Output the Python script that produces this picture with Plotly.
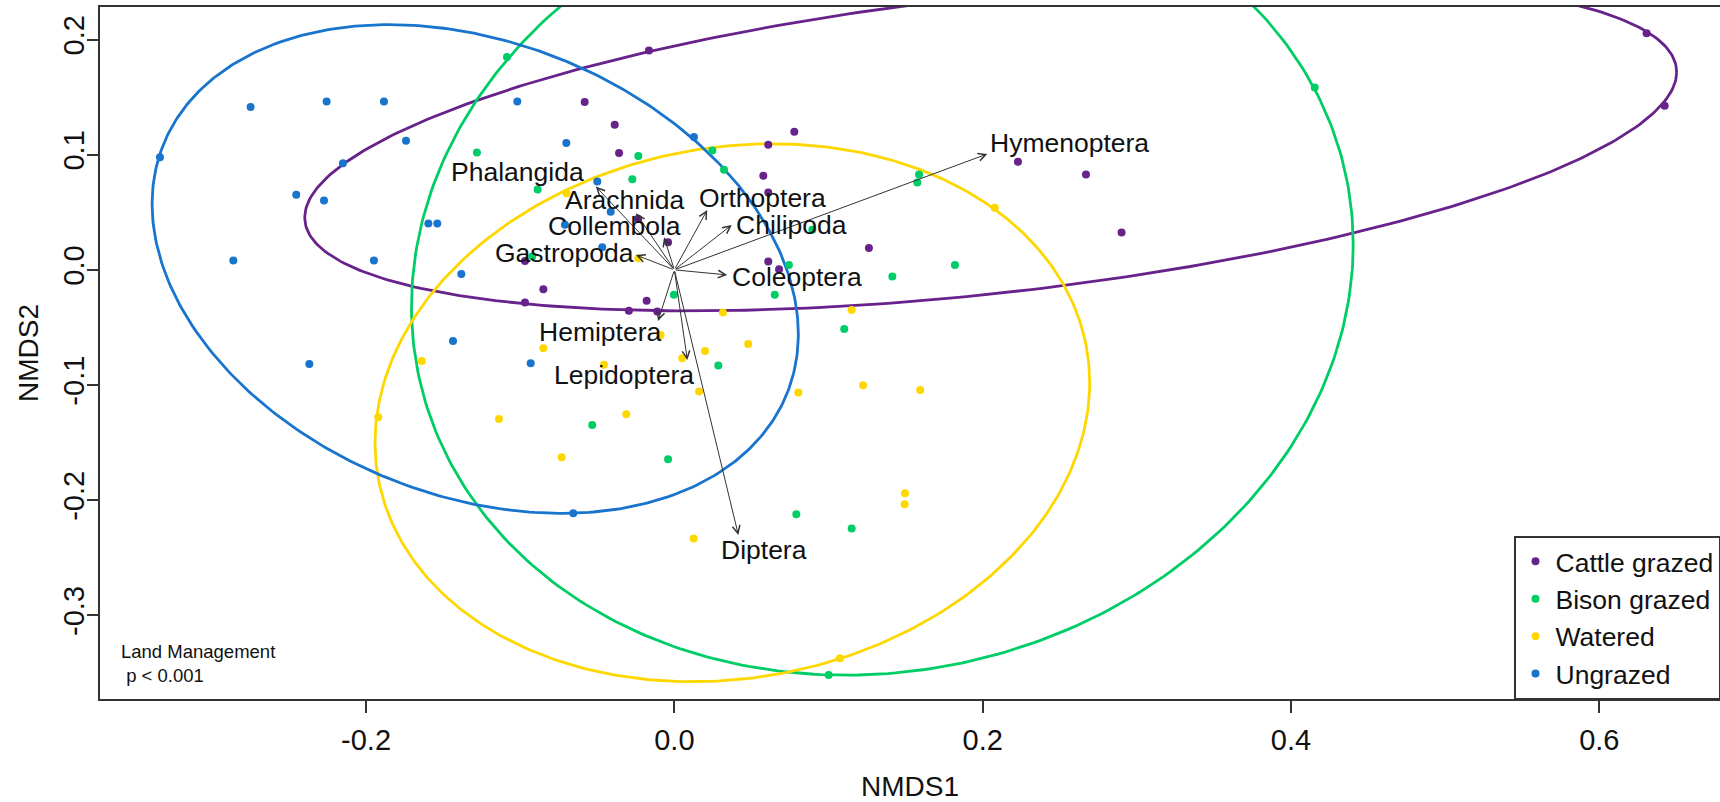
import numpy as np
import plotly.graph_objects as go

# ---------------- data ----------------
groups = ["Cattle grazed", "Bison grazed", "Watered", "Ungrazed"]
colors = ["#68228B", "#00CD66", "#FFD700", "#1874CD"]

cattle_x = [-0.0582, -0.0165, -0.0387, 0.0778, 0.0609, -0.0359, 0.0577, 0.2229, 0.2670,
            0.0609, -0.0235, -0.0041, -0.0969, 0.1262, 0.0609, 0.0679, -0.0180, -0.0295,
            -0.0111, -0.0850, -0.0969, 0.2901, 0.6307, 0.6424]
cattle_y = [0.1457, 0.1905, 0.1260, 0.1199, 0.1086, 0.1014, 0.0817, 0.0938, 0.0828,
            0.0672, 0.0443, 0.0240, 0.0078, 0.0191, 0.0072, 0.0006, -0.0269, -0.0356,
            -0.0362, -0.0168, -0.0284, 0.0324, 0.2056, 0.1425]

bison_x = [-0.1086, -0.1281, -0.0887, -0.0922, -0.0234, 0.0246, 0.0322, -0.0273, 0.1587,
           0.1576, 0.0895, 0.0743, 0.1820, 0.1414, -0.0003, 0.0651, 0.1102, 0.0285,
           -0.0533, -0.0041, 0.0791, 0.1150, 0.1001, 0.4154]
bison_y = [0.1848, 0.1019, 0.0698, 0.0116, 0.0990, 0.1037, 0.0869, 0.0788, 0.0828,
           0.0759, 0.0348, 0.0043, 0.0043, -0.0058, -0.0217, -0.0217, -0.0513, -0.0831,
           -0.1347, -0.1645, -0.2123, -0.2247, -0.3519, 0.1584]

watered_x = [-0.0699, -0.0234, 0.2078, 0.0315, 0.1150, -0.0089, 0.0479, 0.0199, 0.0051,
             -0.0457, 0.0160, 0.0804, 0.1224, 0.1595, -0.0312, 0.1496, 0.1494, 0.0125,
             0.1074, -0.0850, -0.1639, -0.1921, -0.1138, -0.0731]
watered_y = [0.0666, 0.0101, 0.0539, -0.0371, -0.0348, -0.0565, -0.0643, -0.0704, -0.0767,
             -0.0825, -0.1057, -0.1066, -0.1002, -0.1043, -0.1254, -0.1940, -0.2036, -0.2334,
             -0.3374, -0.0680, -0.0791, -0.1280, -0.1295, -0.1627]

ungrazed_x = [-0.2749, -0.2256, -0.1884, -0.1019, -0.0701, -0.1741, -0.3337, -0.2453, -0.2273,
              -0.1596, -0.1538, -0.2861, -0.1949, -0.1382, -0.0710, -0.0500, 0.0127, -0.0413,
              -0.0468, -0.1436, -0.0932, -0.2368, -0.0656, -0.2150]
ungrazed_y = [0.1414, 0.1462, 0.1462, 0.1462, 0.1101, 0.1121, 0.0979, 0.0652, 0.0602,
              0.0402, 0.0402, 0.0081, 0.0081, -0.0035, 0.0391, 0.0767, 0.1153, 0.0504,
              0.0197, -0.0617, -0.0811, -0.0817, -0.2114, 0.0927]

# ellipse hulls per group: centre and shape matrix (sxx, syy, sxy)
ell_cx = [0.2052, 0.1349, 0.0376, -0.1292]
ell_cy = [0.1086, -0.0050, -0.1241, 0.00075]
ell_sxx = [0.1980, 0.0933, 0.05373, 0.04393]
ell_syy = [0.0208, 0.1204, 0.05457, 0.04503]
ell_sxy = [0.0281, 0.00825, 0.00603, -0.01184]

# fitted taxa vectors (arrow tips) and their label positions
taxa = ["Hymenoptera", "Orthoptera", "Chilipoda", "Coleoptera", "Gastropoda", "Phalangida",
        "Arachnida", "Collembola", "Hemiptera", "Lepidoptera", "Diptera"]
vec_x = [0.2030, 0.0213, 0.0372, 0.0343, -0.0249, -0.0509, -0.0248, -0.0067, -0.0106, 0.0084, 0.0415]
vec_y = [0.1007, 0.0520, 0.0390, -0.0044, 0.0129, 0.0723, 0.0492, 0.0283, -0.0444, -0.0783, -0.2302]
lab_x = [0.2565, 0.0574, 0.0760, 0.0796, -0.0713, -0.1019, -0.0320, -0.0387, -0.0478, -0.0327, 0.0579]
lab_y = [0.1100, 0.0622, 0.0390, -0.0059, 0.0144, 0.0853, 0.0607, 0.0381, -0.0537, -0.0913, -0.2433]

x_ticks = [-0.2, 0.0, 0.2, 0.4, 0.6]
x_ticktext = ["-0.2", "0.0", "0.2", "0.4", "0.6"]
y_ticks = [-0.3, -0.2, -0.1, 0.0, 0.1, 0.2]
y_ticktext = ["-0.3", "-0.2", "-0.1", "0.0", "0.1", "0.2"]

# ---------------- figure ----------------
FONT = "Liberation Sans, Arial, sans-serif"
fig = go.Figure()

pts_x = [cattle_x, bison_x, watered_x, ungrazed_x]
pts_y = [cattle_y, bison_y, watered_y, ungrazed_y]

t = np.linspace(0, 2 * np.pi, 400)
for i in range(4):
    S = np.array([[ell_sxx[i], ell_sxy[i]], [ell_sxy[i], ell_syy[i]]])
    L = np.linalg.cholesky(S)
    xy = L @ np.vstack([np.cos(t), np.sin(t)])
    fig.add_trace(go.Scatter(x=ell_cx[i] + xy[0], y=ell_cy[i] + xy[1], mode="lines",
                             line=dict(color=colors[i], width=2.8), showlegend=False,
                             hoverinfo="skip"))

for i in range(4):
    fig.add_trace(go.Scatter(x=pts_x[i], y=pts_y[i], mode="markers", name=groups[i],
                             marker=dict(color=colors[i], size=8, line=dict(width=0))))

annotations = []
for k in range(len(taxa)):
    annotations.append(dict(x=vec_x[k], y=vec_y[k], ax=0, ay=0, xref="x", yref="y",
                            axref="x", ayref="y", text="", showarrow=True, arrowhead=5,
                            arrowsize=1.5, arrowwidth=1, arrowcolor="#333333", standoff=0))
for k in range(len(taxa)):
    annotations.append(dict(x=lab_x[k], y=lab_y[k], xref="x", yref="y", text=taxa[k],
                            showarrow=False, xanchor="center", yanchor="middle",
                            font=dict(family=FONT, size=26.5, color="#111111")))
annotations.append(dict(x=0.0116, y=0.052, xref="paper", yref="paper",
                        text="Land Management<br>&nbsp;p &lt; 0.001", showarrow=False,
                        xanchor="left", yanchor="middle", align="left",
                        font=dict(family=FONT, size=18.5, color="#111111")))

fig.update_layout(
    width=1720, height=802,
    margin=dict(l=100, r=0, t=7, b=103, pad=0),
    plot_bgcolor="white", paper_bgcolor="white",
    font=dict(family=FONT, color="#111111"),
    annotations=annotations,
    legend=dict(x=1, y=0, xanchor="right", yanchor="bottom", bgcolor="white",
                bordercolor="#333333", borderwidth=1.5,
                font=dict(family=FONT, size=26.5, color="#111111"), tracegroupgap=0),
    xaxis=dict(range=[-0.3726, 0.6783], tickvals=x_ticks, ticktext=x_ticktext,
               ticks="outside", ticklen=12, tickwidth=1.5, tickcolor="#333333",
               showline=True, linecolor="#333333", linewidth=1.5, mirror=True,
               showgrid=False, zeroline=False, automargin=False,
               tickfont=dict(family=FONT, size=29), ticklabelstandoff=2,
               title=dict(text="NMDS1", font=dict(family=FONT, size=28), standoff=33)),
    yaxis=dict(range=[-0.3727, 0.2283], tickvals=y_ticks, ticktext=y_ticktext,
               ticks="outside", ticklen=11, tickwidth=1.5, tickcolor="#333333",
               showline=True, linecolor="#333333", linewidth=1.5, mirror=False,
               showgrid=False, zeroline=False, automargin=False, tickangle=-90,
               tickfont=dict(family=FONT, size=29), ticklabelstandoff=-8,
               title=dict(text="NMDS2", font=dict(family=FONT, size=28), standoff=11)),
)

fig.write_html("out.html", config={"displayModeBar": False},
               post_script="document.body.style.margin='0px';document.body.style.padding='0px';")
